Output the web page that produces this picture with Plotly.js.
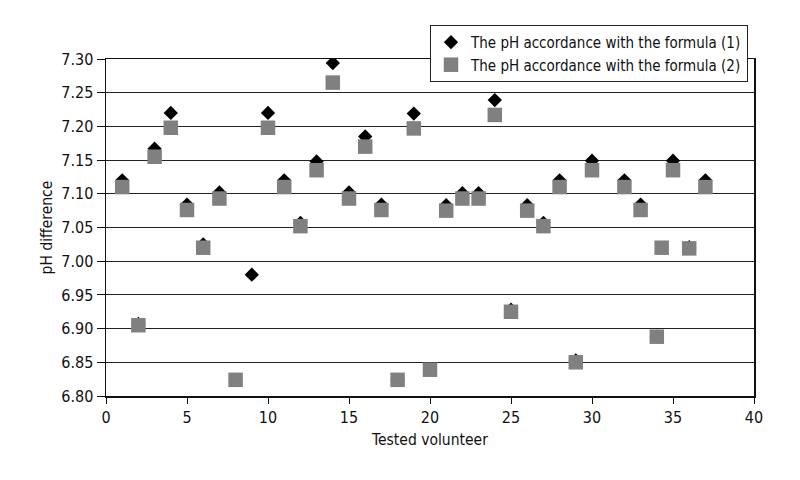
<!DOCTYPE html>
<html>
<head>
<meta charset="utf-8">
<script src="https://cdn.plot.ly/plotly-3.0.1.min.js"></script>
<style>
html,body{margin:0;padding:0;background:#fff;}
#chart{width:800px;height:480px;}
#chart svg text{font-stretch:condensed !important;}
</style>
</head>
<body>
<div id="chart"></div>
<script>
// Series 1: pH accordance with formula (1) (black diamonds)
const volunteers1 = [1,2,3,4,5,6,7,8,9,10,11,12,13,14,15,16,17,18,19,20,21,22,23,24,25,26,27,28,29,30,32,33,34,35,36,37];
const ph1 = [7.12,6.907,7.167,7.22,7.084,7.025,7.102,6.824,6.98,7.22,7.12,7.057,7.148,7.294,7.102,7.185,7.084,6.824,7.219,6.839,7.083,7.101,7.101,7.239,6.928,7.083,7.057,7.12,6.853,7.149,7.12,7.084,6.888,7.149,7.021,7.12];

// Series 2: pH accordance with formula (2) (grey squares)
const volunteers2 = [1,2,3,4,5,6,7,8,10,11,12,13,14,15,16,17,18,19,20,21,22,23,24,25,26,27,28,29,30,32,33,34,34.3,35,36,37];
const ph2 = [7.11,6.905,7.155,7.198,7.076,7.02,7.093,6.824,7.198,7.11,7.052,7.135,7.265,7.093,7.17,7.076,6.824,7.197,6.839,7.075,7.093,7.093,7.217,6.925,7.075,7.052,7.11,6.85,7.135,7.11,7.076,6.888,7.02,7.135,7.019,7.11];

const seriesNames = ['The pH accordance with the formula (1)', 'The pH accordance with the formula (2)'];
const xTitle = 'Tested volunteer';
const yTitle = 'pH difference';

const FONT = '"DejaVu Sans Condensed", "DejaVu Sans", sans-serif';

const traces = [
  {
    type: 'scatter', mode: 'markers', name: seriesNames[0],
    x: volunteers1, y: ph1,
    marker: {symbol: 'diamond', size: 11, color: '#000000', line: {width: 0}}
  },
  {
    type: 'scatter', mode: 'markers', name: seriesNames[1],
    x: volunteers2, y: ph2,
    marker: {symbol: 'square', size: 14.5, color: '#808080', line: {width: 0}}
  }
];

const layout = {
  width: 800, height: 480,
  margin: {l: 106, r: 46, t: 59, b: 84, pad: 0, autoexpand: false},
  paper_bgcolor: '#ffffff', plot_bgcolor: '#ffffff',
  font: {family: FONT, size: 15, color: '#111111'},
  showlegend: true,
  legend: {
    x: 0.50, y: 1.101, xanchor: 'left', yanchor: 'top',
    bgcolor: '#ffffff', bordercolor: '#222222', borderwidth: 1,
    font: {family: FONT, size: 15, color: '#111111'},
    tracegroupgap: 0, itemwidth: 30
  },
  xaxis: {
    range: [0, 40], dtick: 5, tick0: 0,
    showgrid: false, zeroline: false,
    showline: true, linecolor: '#111111', linewidth: 1.5, mirror: true,
    ticks: 'outside', ticklen: 6, tickcolor: '#111111', tickwidth: 1,
    tickfont: {family: FONT, size: 16, color: '#111111'},
    title: {text: xTitle, font: {family: FONT, size: 15.5, color: '#111111'}, standoff: 8}
  },
  yaxis: {
    range: [6.8, 7.3], dtick: 0.05, tick0: 6.8, tickformat: '.2f',
    showgrid: true, gridcolor: '#222222', gridwidth: 1.2,
    zeroline: false,
    showline: true, linecolor: '#111111', linewidth: 1.5, mirror: true,
    ticks: 'outside', ticklen: 8, tickcolor: '#111111', tickwidth: 1,
    tickfont: {family: FONT, size: 16, color: '#111111'},
    title: {text: yTitle, font: {family: FONT, size: 15.5, color: '#111111'}, standoff: 5}
  }
};

Plotly.newPlot('chart', traces, layout, {displayModeBar: false, staticPlot: true});
</script>
</body>
</html>
